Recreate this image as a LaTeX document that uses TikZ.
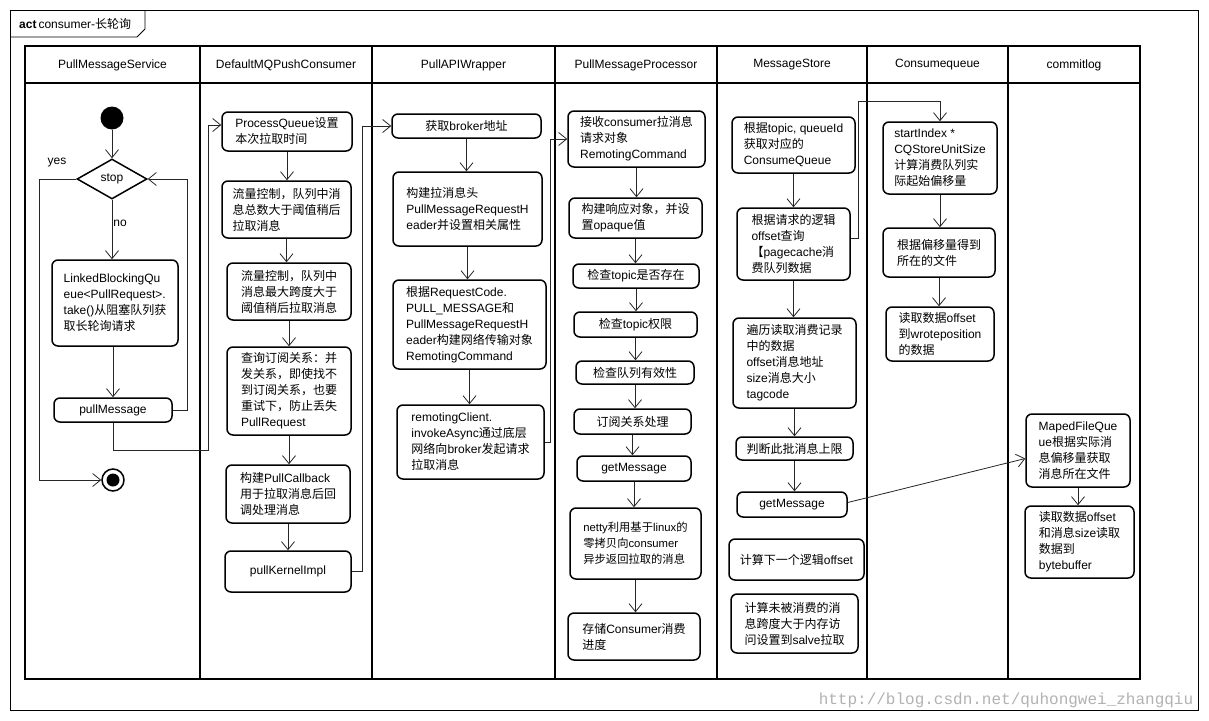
\documentclass[tikz,border=0pt]{standalone}
\usepackage{fontspec}
\setmainfont{Liberation Sans}
\setmonofont{Liberation Mono}
\newfontfamily\cjkfont{Noto Sans CJK SC}
\usetikzlibrary{shapes.geometric,arrows.meta,calc}
\chardef\zhclass=10
\XeTeXinterchartokenstate=1
\makeatletter
\count@="2E80
\loop\ifnum\count@<"A000 \XeTeXcharclass\count@=\zhclass \advance\count@ by 1 \repeat
\count@="FF00
\loop\ifnum\count@<"FFF0 \XeTeXcharclass\count@=\zhclass \advance\count@ by 1 \repeat
\makeatother
\XeTeXinterchartoks 0 \zhclass = {\cjkfont}
\XeTeXinterchartoks 4095 \zhclass = {\cjkfont}
\XeTeXinterchartoks \zhclass 0 = {\rmfamily}
\XeTeXinterchartoks \zhclass 4095 = {\rmfamily}
\newcommand\dfont{\fontsize{12}{16}\selectfont}
\tikzset{
  act/.style={draw, line width=1.5pt, rounded corners=6pt, align=left, inner sep=2pt, font=\dfont},
  flow/.style={draw=black!85, line width=0.8pt, -{Straight Barb[length=8pt,width=13pt,line width=0.8pt]}},
  lanename/.style={font=\dfont},
  lbl/.style={font=\dfont, inner sep=1pt},
  laneline/.style={line width=1.8pt},
}
\begin{document}
\begin{tikzpicture}[x=1pt,y=-1pt]
\useasboundingbox (0,0) rectangle (1209,720);
\fill[white] (0,0) rectangle (1209,720);
% frame
\draw[line width=0.9pt] (10,10) rectangle (1198,710);
\draw[line width=0.9pt] (10,37) -- (137,37) -- (145,29) -- (145,10);
\node[anchor=west, font=\dfont, inner sep=0pt] (title) at (19,24) {\textbf{act}\,consumer-长轮询};
% lanes
\draw[laneline] (25,46) rectangle (1140,679);
\draw[laneline] (25,83) -- (1140,83);
\foreach \x in {200,372,555,717,867,1008} \draw[laneline] (\x,46) -- (\x,679);
\node[lanename] (h1) at (112.5,65) {PullMessageService};
\node[lanename] (h2) at (286,65) {DefaultMQPushConsumer};
\node[lanename] (h3) at (463.5,65) {PullAPIWrapper};
\node[lanename] (h4) at (636,65) {PullMessageProcessor};
\node[lanename] (h5) at (792,65) {MessageStore};
\node[lanename] (h6) at (937.5,65) {Consumequeue};
\node[lanename] (h7) at (1074,65) {commitlog};

% lane 1
\node[circle, fill=black, minimum size=23pt, inner sep=0pt] (start) at (112,118) {};
\node[diamond, draw, line width=1.5pt, minimum width=70pt, minimum height=40pt, inner sep=0pt, font=\dfont] (stop) at (112,179) {stop};
\node[act, minimum width=126pt, minimum height=86pt] (lbq) at (115,303) {LinkedBlockingQu\\eue<PullRequest>.\\take()从阻塞队列获\\取长轮询请求};
\node[act, minimum width=118pt, minimum height=24pt] (pm) at (113,410) {pullMessage};
\node[circle, draw, line width=1.5pt, minimum size=22pt, inner sep=0pt,
      path picture={\fill[black] (path picture bounding box.center) circle (6.5pt);}] (end) at (113,480) {};
\node[lbl] (yeslbl) at (57,163) {yes};

% lane 2
\node[act, minimum width=130pt, minimum height=39pt] (pq) at (287,131.5) {ProcessQueue设置\\本次拉取时间};
\node[act, minimum width=129pt, minimum height=57pt] (fc1) at (286.5,209.5) {流量控制，队列中消\\息总数大于阈值稍后\\拉取消息};
\node[act, minimum width=124pt, minimum height=57pt] (fc2) at (289,291.5) {流量控制，队列中\\消息最大跨度大于\\阈值稍后拉取消息};
\node[act, minimum width=124pt, minimum height=88pt] (sub) at (289,391) {查询订阅关系：并\\发关系，即使找不\\到订阅关系，也要\\重试下，防止丢失\\PullRequest};
\node[act, minimum width=124pt, minimum height=58pt] (cb) at (288,494) {构建PullCallback\\用于拉取消息后回\\调处理消息};
\node[act, minimum width=126pt, minimum height=41pt] (pki) at (288,571.5) {pullKernelImpl};

% lane 3
\node[act, minimum width=149pt, minimum height=24pt] (gb) at (466.5,126) {获取broker地址};
\node[act, minimum width=149pt, minimum height=74pt] (hdr) at (467.5,209) {构建拉消息头\\PullMessageRequestH\\eader并设置相关属性};
\node[act, minimum width=153pt, minimum height=89pt] (rc) at (469.5,324.5) {根据RequestCode.\\PULL\_MESSAGE和\\PullMessageRequestH\\eader构建网络传输对象\\RemotingCommand};
\node[act, minimum width=147pt, minimum height=74pt] (rem) at (470.5,442) {remotingClient.\\invokeAsync通过底层\\网络向broker发起请求\\拉取消息};

% lane 4
\node[act, minimum width=137pt, minimum height=56pt] (recv) at (636.5,139) {接收consumer拉消息\\请求对象\\RemotingCommand};
\node[act, minimum width=133pt, minimum height=40pt] (resp) at (635.5,218) {构建响应对象，并设\\置opaque值};
\node[act, minimum width=126pt, minimum height=24pt] (ct1) at (636,276) {检查topic是否存在};
\node[act, minimum width=123pt, minimum height=25pt] (ct2) at (635.5,324.5) {检查topic权限};
\node[act, minimum width=118pt, minimum height=23pt] (cq) at (635,372.5) {检查队列有效性};
\node[act, minimum width=117pt, minimum height=25pt] (subp) at (632.5,421.5) {订阅关系处理};
\node[act, minimum width=114pt, minimum height=25pt] (gm1) at (634,468.5) {getMessage};
\node[act, minimum width=131pt, minimum height=71pt, font=\fontsize{11.3}{16}\selectfont] (netty) at (635.5,543.5) {netty利用基于linux的\\零拷贝向consumer\\异步返回拉取的消息};
\node[act, minimum width=132pt, minimum height=47pt] (store) at (634,636.5) {存储Consumer消费\\进度};

% lane 5
\node[act, minimum width=123pt, minimum height=56pt] (ms1) at (793.5,145) {根据topic, queueId\\获取对应的\\ConsumeQueue};
\node[act, minimum width=113pt, minimum height=72pt] (ms2) at (793.5,244) {根据请求的逻辑\\offset查询\\【pagecache消\\费队列数据};
\node[act, minimum width=123pt, minimum height=90pt] (ms3) at (794.5,363) {遍历读取消费记录\\中的数据\\offset消息地址\\size消息大小\\tagcode};
\node[act, minimum width=117pt, minimum height=23pt] (ms4) at (794.5,448.5) {判断此批消息上限};
\node[act, minimum width=110pt, minimum height=25pt] (gm2) at (792,504.5) {getMessage};
\node[act, minimum width=135pt, minimum height=41pt] (ms5) at (796.5,559.5) {计算下一个逻辑offset};
\node[act, minimum width=127pt, minimum height=59pt] (ms6) at (794.5,623.5) {计算未被消费的消\\息跨度大于内存访\\问设置到salve拉取};

% lane 6
\node[act, minimum width=114pt, minimum height=72pt] (cq1) at (940,158) {startIndex *\\CQStoreUnitSize\\计算消费队列实\\际起始偏移量};
\node[act, minimum width=112pt, minimum height=49pt] (cq2) at (939,252.5) {根据偏移量得到\\所在的文件};
\node[act, minimum width=108pt, minimum height=54pt] (cq3) at (940,334) {读取数据offset\\到wroteposition\\的数据};

% lane 7
\node[act, minimum width=104pt, minimum height=73pt] (mfq) at (1078,450.5) {MapedFileQue\\ue根据实际消\\息偏移量获取\\消息所在文件};
\node[act, minimum width=109pt, minimum height=72pt] (rd) at (1079.5,542) {读取数据offset\\和消息size读取\\数据到\\bytebuffer};

% watermark
\node[font=\ttfamily\fontsize{16}{16}\selectfont, text=black!30, inner sep=0pt] (wm) at (1006,700) {http://blog.csdn.net/quhongwei\_zhangqiu};

% connectors lane 1
\coordinate (yc) at (39,480);
\coordinate (b1) at (208,450);
\coordinate (b2) at (208,125);
\draw[flow] (start) -- (stop);
\draw[flow] (stop.south) -- node[lbl, right, pos=0.4] {no} (stop.south |- lbq.north);
\draw[flow] (lbq.south -| pm.north) -- (pm.north);
\draw[flow] (pm.east) -- ++(15,0) |- (stop.east);
\draw[flow] (stop.west) -| (yc) -- (end);
\draw[flow] (pm.south) |- (b1) -- (b2) -- (b2 -| pq.west);

% lane 2
\draw[flow] (pq.south) -- (pq.south |- fc1.north);
\draw[flow] (fc1.south) -- (fc1.south |- fc2.north);
\draw[flow] (fc2.south) -- (fc2.south |- sub.north);
\draw[flow] (sub.south) -- (sub.south |- cb.north);
\draw[flow] (cb.south) -- (cb.south |- pki.north);
\draw[flow] (pki.east) -- ++(11,0) |- (gb.west);

% lane 3
\draw[flow] (gb.south) -- (gb.south |- hdr.north);
\draw[flow] (hdr.south) -- (hdr.south |- rc.north);
\draw[flow] (rc.south) -- (rc.south |- rem.north);
\draw[flow] (rem.east) -- ++(6,0) |- (recv.west);

% lane 4
\draw[flow] (recv.south) -- (recv.south |- resp.north);
\draw[flow] (resp.south) -- (resp.south |- ct1.north);
\draw[flow] (ct1.south) -- (ct1.south |- ct2.north);
\draw[flow] (ct2.south) -- (ct2.south |- cq.north);
\draw[flow] (cq.south) -- (cq.south |- subp.north);
\draw[flow] (subp.south) -- (subp.south |- gm1.north);
\draw[flow] (gm1.south) -- (gm1.south |- netty.north);
\draw[flow] (netty.south) -- (netty.south |- store.north);

% lane 5
\coordinate (t1) at (858,101);
\draw[flow] (ms1.south) -- (ms1.south |- ms2.north);
\draw[flow] (ms2.south) -- (ms2.south |- ms3.north);
\draw[flow] (ms3.south) -- (ms3.south |- ms4.north);
\draw[flow] (ms4.south) -- (ms4.south |- gm2.north);
\draw[flow] ($(ms2.east)+(0,-6)$) -| (t1) -| (cq1.north);
\draw[flow] ($(gm2.east)+(0,-2)$) -- ($(mfq.west)+(0,8)$);

% lane 6, 7
\draw[flow] (cq1.south) -- (cq1.south |- cq2.north);
\draw[flow] (cq2.south) -- (cq2.south |- cq3.north);
\draw[flow] (mfq.south) -- (mfq.south |- rd.north);
\end{tikzpicture}
\end{document}
